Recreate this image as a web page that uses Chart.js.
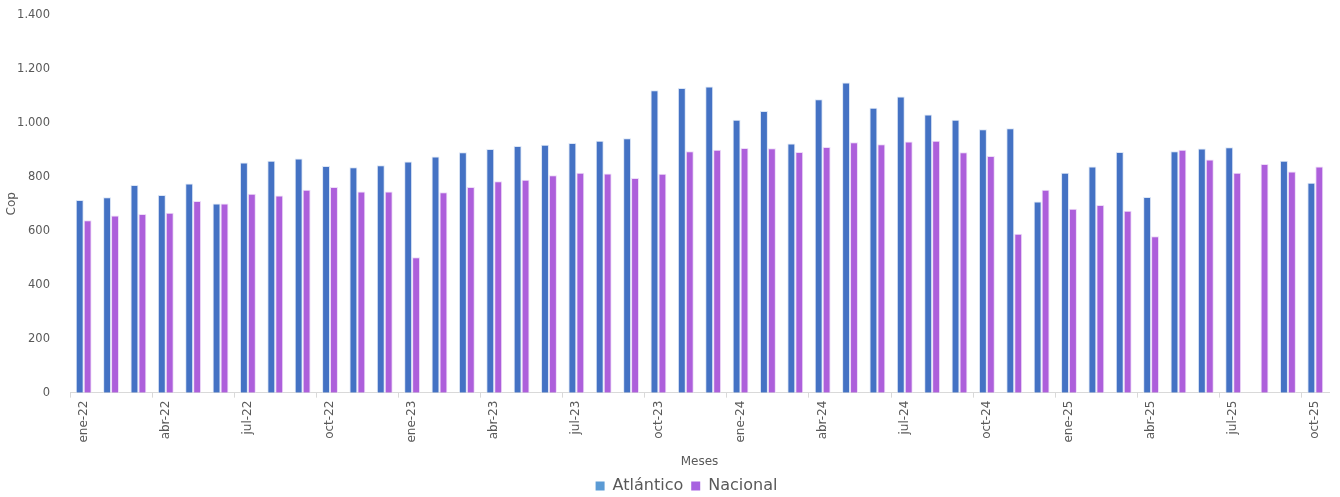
<!DOCTYPE html>
<html>
<head>
<meta charset="utf-8">
<script src="https://cdn.jsdelivr.net/npm/chart.js@4.4.1/dist/chart.umd.min.js"></script>
<style>
  html, body { margin: 0; padding: 0; background: #fff; }
  #wrap { width: 1340px; height: 497px; }
</style>
</head>
<body>
<div id="wrap"><canvas id="chart"></canvas></div>
<script>
const months = [
  'ene-22','feb-22','mar-22','abr-22','may-22','jun-22','jul-22','ago-22','sep-22','oct-22','nov-22','dic-22',
  'ene-23','feb-23','mar-23','abr-23','may-23','jun-23','jul-23','ago-23','sep-23','oct-23','nov-23','dic-23',
  'ene-24','feb-24','mar-24','abr-24','may-24','jun-24','jul-24','ago-24','sep-24','oct-24','nov-24','dic-24',
  'ene-25','feb-25','mar-25','abr-25','may-25','jun-25','jul-25','ago-25','sep-25','oct-25'
];

const atlantico = [
  714, 724, 770, 733, 775, 701, 853, 860, 868, 840, 836, 843,
  857, 875, 891, 903, 914, 919, 925, 934, 943, 1121, 1129, 1135,
  1012, 1044, 924, 1088, 1150, 1056, 1098, 1031, 1012, 976, 980, 709,
  815, 838, 892, 725, 895, 905, 910, null, 860, 778
];

const nacional = [
  639, 657, 662, 667, 710, 701, 737, 731, 752, 762, 746, 746,
  502, 743, 762, 784, 789, 806, 815, 812, 796, 811, 895, 900,
  907, 906, 892, 911, 928, 921, 931, 934, 891, 877, 589, 752,
  682, 696, 674, 580, 900, 864, 815, 848, 820, 838
];

const yTicks = [0, 200, 400, 600, 800, 1000, 1200, 1400];

const legendColors = ['#5b9bd5', '#a862e0'];
const textColor = '#595959';
const font = "'DejaVu Sans', sans-serif";

// nudge the legend to the right so it sits under the plot like the original
const shiftLegend = {
  id: 'shiftLegend',
  afterLayout(chart) {
    chart.legend.left += 22;
    chart.legend.right += 22;
  }
};

new Chart(document.getElementById('chart'), {
  type: 'bar',
  data: {
    labels: months,
    datasets: [
      {
        label: 'Atlántico',
        data: atlantico,
        backgroundColor: '#4472c4',
        borderColor: '#dce6f6',
        borderWidth: 1,
        categoryPercentage: 0.58,
        barPercentage: 1.0
      },
      {
        label: 'Nacional',
        data: nacional,
        backgroundColor: '#ad5fdb',
        borderColor: '#eedcf8',
        borderWidth: 1,
        categoryPercentage: 0.58,
        barPercentage: 1.0
      }
    ]
  },
  options: {
    responsive: true,
    maintainAspectRatio: false,
    animation: false,
    layout: { padding: { top: 0, right: 11, left: 0, bottom: -7 } },
    plugins: {
      tooltip: { enabled: false },
      legend: {
        position: 'bottom',
        labels: {
          color: textColor,
          font: { family: font, size: 16 },
          boxWidth: 9,
          boxHeight: 9,
          padding: 8,
          generateLabels: chart => chart.data.datasets.map((ds, i) => ({
            text: ds.label,
            fillStyle: legendColors[i],
            strokeStyle: legendColors[i],
            lineWidth: 0,
            datasetIndex: i,
            fontColor: textColor
          }))
        }
      }
    },
    scales: {
      x: {
        grid: {
          offset: true,
          drawOnChartArea: false,
          tickLength: 5,
          color: ctx => (ctx.index % 3 === 0 ? '#d9d9d9' : 'rgba(0,0,0,0)')
        },
        border: { color: '#d9d9d9', width: 1 },
        ticks: {
          autoSkip: false,
          maxRotation: 90,
          minRotation: 90,
          color: textColor,
          font: { family: font, size: 12 },
          callback: function (value, index) {
            return index % 3 === 0 ? months[index] : '';
          }
        },
        title: {
          display: true,
          text: 'Meses',
          color: textColor,
          font: { family: font, size: 12 },
          padding: { top: 9, bottom: 1 }
        }
      },
      y: {
        min: 0,
        max: 1400,
        afterFit: scale => { scale.width = 70; scale.paddingTop = 15; },
        afterBuildTicks: scale => { scale.ticks = yTicks.map(v => ({ value: v })); },
        grid: { display: false },
        border: { display: false },
        ticks: {
          color: textColor,
          font: { family: font, size: 11.5 },
          padding: 12,
          callback: v => v.toLocaleString('de-DE')
        },
        title: {
          display: true,
          text: 'Cop',
          color: textColor,
          font: { family: font, size: 12 },
          padding: { top: 5, bottom: 0 }
        }
      }
    }
  },
  plugins: [shiftLegend]
});
</script>
</body>
</html>
